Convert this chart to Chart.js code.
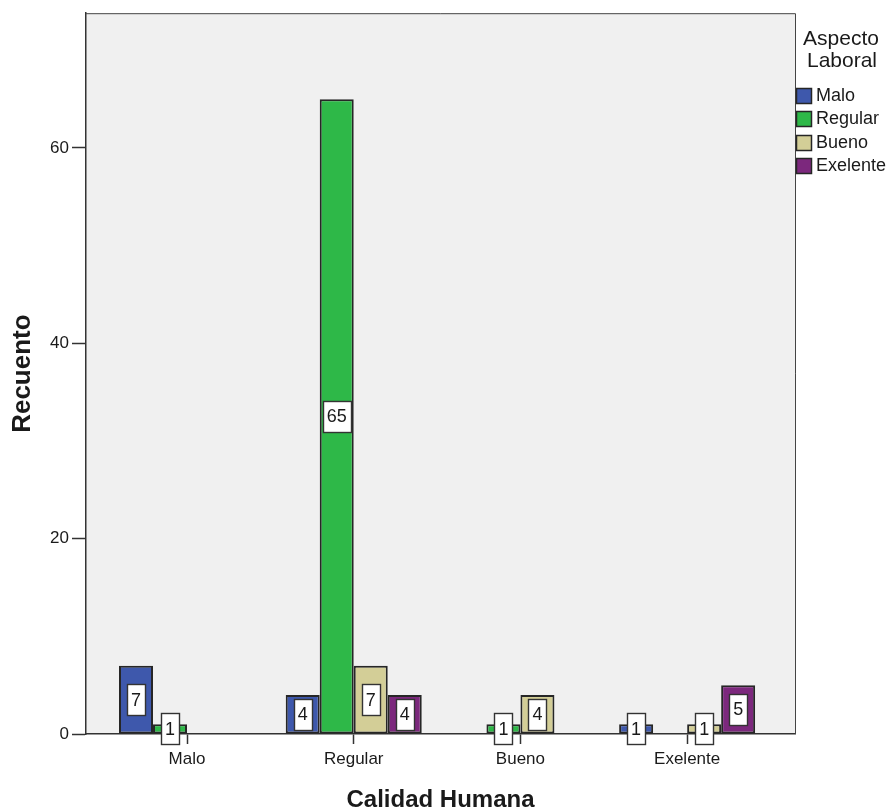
<!DOCTYPE html>
<html>
<head>
<meta charset="utf-8">
<script src="https://cdn.jsdelivr.net/npm/chart.js@4"></script>
<style>
  html, body { margin: 0; padding: 0; background: #ffffff; }
  canvas { display: block; }
</style>
</head>
<body>
<canvas id="chart" width="889" height="812"></canvas>
<script>
// Calidad Humana (x categories) vs. Aspecto Laboral (series), counts
const categories = ['Malo', 'Regular', 'Bueno', 'Exelente'];
const seriesNames = ['Malo', 'Regular', 'Bueno', 'Exelente'];
const seriesColors = ['#3E58AC', '#2EB848', '#D3CE97', '#7C287D'];

const maloValues     = [7, 4, 0, 1];
const regularValues  = [1, 65, 1, 0];
const buenoValues    = [0, 7, 4, 1];
const exelenteValues = [0, 4, 0, 5];

const yTickValues = [0, 20, 40, 60];
const yMax = 73.8;

const seriesValues = [maloValues, regularValues, buenoValues, exelenteValues];

const FONT = "'Liberation Sans', Arial, sans-serif";

// Empty counts are left out (no bar, no label), but keep their slot in the group
const datasets = seriesNames.map((name, s) => ({
  label: name,
  data: seriesValues[s].map((v, i) => ({ x: i, y: v === 0 ? null : v })),
  backgroundColor: seriesColors[s],
  borderColor: '#262626',
  borderWidth: 2,
  borderSkipped: false,
  categoryPercentage: 0.816,
  barPercentage: 1.0
}));

// Plot background and frame
const framePlugin = {
  id: 'frame',
  beforeDraw(chart) {
    const { ctx, chartArea: a } = chart;
    ctx.save();
    ctx.fillStyle = '#ffffff';
    ctx.fillRect(0, 0, chart.width, chart.height);
    ctx.fillStyle = '#F0F0F0';
    ctx.fillRect(a.left, a.top, a.right - a.left, a.bottom - a.top);
    ctx.restore();
  },
  afterDraw(chart) {
    const { ctx, chartArea: a } = chart;
    ctx.save();
    ctx.strokeStyle = '#444444';
    ctx.lineWidth = 1;
    ctx.beginPath();
    ctx.moveTo(a.left, a.top + 0.5);
    ctx.lineTo(a.right + 0.5, a.top + 0.5);
    ctx.lineTo(a.right + 0.5, a.bottom);
    ctx.stroke();
    ctx.restore();
  }
};

// Boxed value labels at the middle of every bar
const valueBoxPlugin = {
  id: 'valueBoxes',
  afterDatasetsDraw(chart) {
    const { ctx } = chart;
    ctx.save();
    ctx.font = '18px ' + FONT;
    ctx.textAlign = 'center';
    ctx.textBaseline = 'middle';
    chart.data.datasets.forEach((ds, di) => {
      const meta = chart.getDatasetMeta(di);
      meta.data.forEach((bar, i) => {
        const v = seriesValues[di][i];
        if (!v) return;
        const cx = bar.x;
        const cy = (bar.y + bar.base) / 2;
        const text = String(v);
        const w = Math.round(ctx.measureText(text).width + 8);
        const h = 31;
        const x0 = Math.round(cx - w / 2) + 0.5;
        const y0 = Math.round(cy - h / 2) + 0.5;
        ctx.fillStyle = '#ffffff';
        ctx.fillRect(x0, y0, w, h);
        ctx.strokeStyle = '#333333';
        ctx.lineWidth = 1.4;
        ctx.strokeRect(x0, y0, w, h);
        ctx.fillStyle = '#1a1a1a';
        ctx.fillText(text, cx, cy + 1);
      });
    });
    ctx.restore();
  }
};

// Legend on the right with a two-line title
const sideLegendPlugin = {
  id: 'sideLegend',
  afterDraw(chart) {
    const { ctx } = chart;
    ctx.save();
    ctx.fillStyle = '#1a1a1a';
    ctx.font = '21px ' + FONT;
    ctx.textAlign = 'center';
    ctx.textBaseline = 'alphabetic';
    ctx.fillText('Aspecto', 841, 45);
    ctx.fillText('Laboral', 842, 67);

    ctx.font = '18px ' + FONT;
    ctx.textAlign = 'left';
    ctx.textBaseline = 'middle';
    chart.data.datasets.forEach((ds, i) => {
      const cy = 95 + i * 23.5;
      ctx.fillStyle = ds.backgroundColor;
      ctx.fillRect(796.5, Math.round(cy - 7.5) + 0.5, 15, 15);
      ctx.strokeStyle = '#262626';
      ctx.lineWidth = 1.5;
      ctx.strokeRect(796.5, Math.round(cy - 7.5) + 0.5, 15, 15);
      ctx.fillStyle = '#1a1a1a';
      ctx.fillText(ds.label, 816, cy + 1);
    });
    ctx.restore();
  }
};

new Chart(document.getElementById('chart'), {
  type: 'bar',
  data: { datasets },
  options: {
    responsive: false,
    animation: false,
    devicePixelRatio: 1,
    layout: { padding: { top: 12, right: 94, left: 0, bottom: 0 } },
    plugins: {
      legend: { display: false },
      tooltip: { enabled: false }
    },
    scales: {
      x: {
        type: 'linear',
        min: -0.606,
        max: 3.647,
        offset: false,
        afterFit(scale) { scale.height = 78; },
        afterBuildTicks(scale) {
          scale.ticks = categories.map((c, i) => ({ value: i }));
        },
        ticks: {
          stepSize: 1,
          includeBounds: false,
          autoSkip: false,
          maxRotation: 0,
          padding: 5,
          color: '#1a1a1a',
          font: { family: FONT, size: 17 },
          callback: (v) => categories[v] ?? ''
        },
        grid: {
          offset: false,
          drawOnChartArea: false,
          drawTicks: true,
          tickLength: 10,
          tickColor: '#333333',
          tickWidth: 1.5
        },
        border: { display: true, color: '#333333', width: 1.5 },
        title: {
          display: true,
          text: 'Calidad Humana',
          color: '#1a1a1a',
          font: { family: FONT, size: 24, weight: 'bold', lineHeight: 1 },
          padding: { top: 0, bottom: 0 }
        }
      },
      y: {
        min: 0,
        max: yMax,
        afterFit(scale) { scale.width = 86; },
        afterBuildTicks(scale) {
          scale.ticks = yTickValues.map(v => ({ value: v }));
        },
        ticks: {
          stepSize: 20,
          includeBounds: false,
          padding: 3,
          color: '#1a1a1a',
          font: { family: FONT, size: 17 }
        },
        grid: {
          drawOnChartArea: false,
          drawTicks: true,
          tickLength: 14,
          tickColor: '#333333',
          tickWidth: 1.5
        },
        border: { display: true, color: '#333333', width: 1.5 },
        title: {
          display: true,
          text: 'Recuento',
          color: '#1a1a1a',
          font: { family: FONT, size: 26, weight: 'bold', lineHeight: 1 },
          padding: { top: 10, bottom: 0 }
        }
      }
    }
  },
  plugins: [framePlugin, valueBoxPlugin, sideLegendPlugin]
});
</script>
</body>
</html>
